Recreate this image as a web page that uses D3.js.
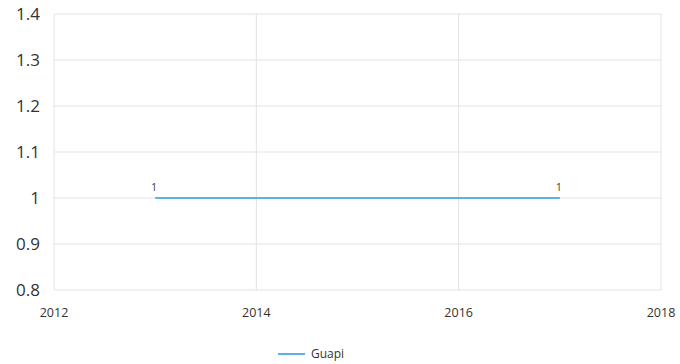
<!DOCTYPE html>
<html>
<head>
<meta charset="utf-8">
<script src="https://cdn.jsdelivr.net/npm/d3@7"></script>
<style>
  body { margin: 0; background: #fff; }
  text { font-family: "Open Sans", "Noto Sans", sans-serif; fill: #333; }
</style>
</head>
<body>
<svg id="chart"></svg>
<script>
const WIDTH = 680;
const HEIGHT = 364;

const years = [2013, 2017];
const values = [1, 1];
const seriesName = "Guapi";
const xTicks = [2012, 2014, 2016, 2018];
const yTicks = [0.8, 0.9, 1, 1.1, 1.2, 1.3, 1.4];

const LINE_COLOR = "#5db3e0";
const GRID_COLOR = "#e3e3e3";

const margin = {top: 14, right: 19, bottom: 74, left: 54};

function main(){
    var svg = d3.select("#chart")
        .attr("width", WIDTH)
        .attr("height", HEIGHT);

    var x = d3.scaleLinear()
        .domain([2012, 2018])
        .range([margin.left, WIDTH - margin.right]);
    var y = d3.scaleLinear()
        .domain([0.8, 1.4])
        .range([HEIGHT - margin.bottom, margin.top]);

    // horizontal grid
    svg.append("g")
        .selectAll("line")
        .data(yTicks)
        .enter()
        .append("line")
        .attr("x1", x(2012))
        .attr("x2", x(2018))
        .attr("y1", d => y(d))
        .attr("y2", d => y(d))
        .attr("stroke", GRID_COLOR)
        .attr("stroke-width", 1);

    // vertical grid
    svg.append("g")
        .selectAll("line")
        .data(xTicks)
        .enter()
        .append("line")
        .attr("x1", d => x(d))
        .attr("x2", d => x(d))
        .attr("y1", y(0.8))
        .attr("y2", y(1.4))
        .attr("stroke", GRID_COLOR)
        .attr("stroke-width", 1);

    // y labels
    svg.append("g")
        .selectAll("text")
        .data(yTicks)
        .enter()
        .append("text")
        .attr("x", 40)
        .attr("y", d => y(d))
        .attr("dy", "0.35em")
        .attr("text-anchor", "end")
        .style("font-size", "17px")
        .text(d => d3.format("")(d));

    // x labels
    svg.append("g")
        .selectAll("text")
        .data(xTicks)
        .enter()
        .append("text")
        .attr("x", d => x(d))
        .attr("y", 317)
        .attr("text-anchor", "middle")
        .style("font-size", "12.5px")
        .text(d => d);

    var pts = years.map((yr, i) => ({yr: yr, v: values[i]}));

    var line = d3.line()
        .x(d => x(d.yr))
        .y(d => y(d.v));

    svg.append("path")
        .datum(pts)
        .attr("d", line)
        .attr("fill", "none")
        .attr("stroke", LINE_COLOR)
        .attr("stroke-width", 2);

    // data labels
    svg.append("g")
        .selectAll("text")
        .data(pts)
        .enter()
        .append("text")
        .attr("x", d => x(d.yr) - 1)
        .attr("y", d => y(d.v) - 7)
        .attr("text-anchor", "middle")
        .style("font-size", "10px")
        .text(d => d.v);

    // legend
    var legend = svg.append("g").attr("transform", "translate(278,354)");
    legend.append("line")
        .attr("x1", 0).attr("x2", 27)
        .attr("y1", 0).attr("y2", 0)
        .attr("stroke", LINE_COLOR)
        .attr("stroke-width", 2);
    legend.append("text")
        .attr("x", 33)
        .attr("y", 0)
        .attr("dy", "0.35em")
        .style("font-size", "12px")
        .text(seriesName);
}

main();
</script>
</body>
</html>
